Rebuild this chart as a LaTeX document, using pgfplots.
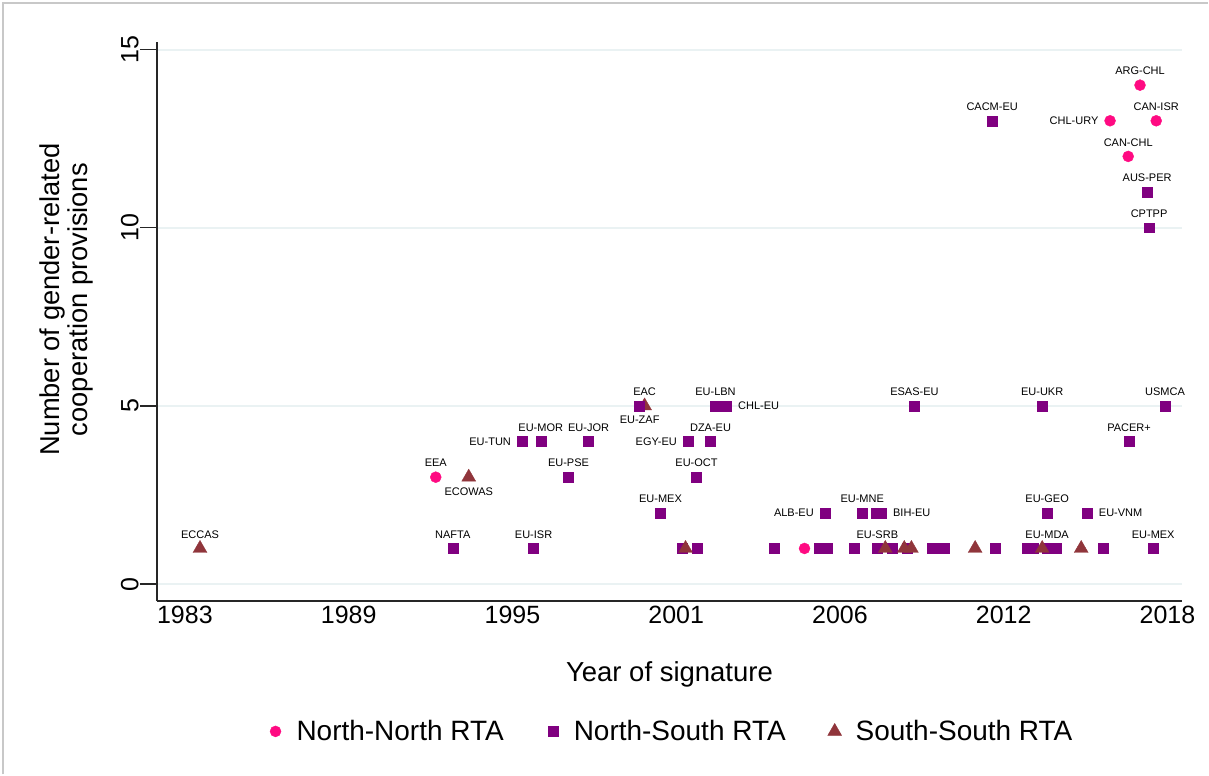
\documentclass[border=0pt]{standalone}
\usepackage{fontspec}
\setmainfont{Liberation Sans}
\usepackage{pgfplots}
\pgfplotsset{compat=1.18}

\definecolor{nnpink}{RGB}{255,10,130}
\definecolor{nspurple}{RGB}{128,0,128}
\definecolor{sstri}{RGB}{144,53,59}
\definecolor{gridc}{RGB}{234,242,243}
\definecolor{framec}{RGB}{200,200,200}

\pgfplotsset{
  lbl/.style={nodes near coords, point meta=explicit symbolic,
    every node near coord/.append style={anchor=#1, font=\fontsize{11}{13}\selectfont,
      inner xsep=11.5pt, inner ysep=10pt, text=black}},
  legmark/.style={legend image code/.code={\path[draw=none,fill=none] (0pt,0pt) (30pt,0pt); \draw[##1] plot coordinates {(11pt,0pt)};}},
  nn/.style={only marks, mark=*, mark size=5.5pt, color=nnpink, legmark},
  ns/.style={only marks, mark=square*, mark size=5pt, color=nspurple, legmark},
  ss/.style={only marks, mark=triangle*, mark size=8pt, color=sstri, legmark},
}

\begin{document}
\begin{tikzpicture}[x=1pt,y=1pt]
\fill[white] (-157,-173.3) rectangle (1052,601.7);
\draw[framec, line width=2pt] (-154,-173.3) -- (-154,598.7) -- (1052,598.7);
\begin{axis}[
  at={(0,0)}, anchor=south west,
  scale only axis, width=1026pt, height=560pt,
  xmin=1982.13, xmax=2019.44, ymin=-0.48, ymax=15.22,
  clip=false,
  axis x line*=bottom, axis y line*=left,
  axis line style={-, line width=1.6pt, black!85},
  xtick={1983.15,1989.11,1995.07,2001.03,2006.99,2012.95,2018.91},
  xticklabels={1983,1989,1995,2001,2006,2012,2018},
  ytick={0,5,10,15},
  xtick style={draw=none},
  tick align=outside,
  major tick length=17pt,
  ytick style={line width=1.5pt, black!85},
  ymajorgrids,
  major grid style={gridc, line width=2pt},
  /pgf/number format/assume math mode=true,
  xticklabel style={font=\fontsize{25}{30}\selectfont, inner sep=3pt, yshift=15pt},
  yticklabel style={font=\fontsize{25}{30}\selectfont, rotate=90, anchor=south, inner sep=1pt},
  xlabel={Year of signature},
  xlabel style={font=\fontsize{27.5}{33}\selectfont, at={(axis description cs:0.5,-0.131)}, anchor=center},
  ylabel={Number of gender-related\\cooperation provisions},
  ylabel style={font=\fontsize{27.3}{28}\selectfont, align=center, at={(axis description cs:-0.088,0.539)}, anchor=center},
  legend columns=3,
  legend style={at={(axis description cs:0.5,-0.2327)}, anchor=center, draw=none, fill=none,
    font=\fontsize{28}{33}\selectfont,
    /tikz/every even column/.append style={column sep=36pt}},
]
% North-North, label above
\addplot[nn, lbl=south] coordinates {
 (1992.28,3) [EEA] (2017.48,12) [CAN-CHL] (2017.91,14) [ARG-CHL] (2018.50,13) [CAN-ISR]};
\addlegendentry{North-North RTA}
% North-South, label above
\addplot[ns, lbl=south] coordinates {
 (1992.90,1) [NAFTA] (1995.84,1) [EU-ISR] (1996.10,4) [EU-MOR] (1997.11,3) [EU-PSE]
 (1997.84,4) [EU-JOR] (2000.46,2) [EU-MEX] (2001.77,3) [EU-OCT] (2002.28,4) [DZA-EU]
 (2002.46,5) [EU-LBN] (2007.80,2) [EU-MNE] (2008.35,1) [EU-SRB] (2009.70,5) [ESAS-EU]
 (2012.53,13) [CACM-EU] (2014.35,5) [EU-UKR] (2014.53,2) [EU-GEO] (2014.53,1) [EU-MDA]
 (2017.51,4) [PACER+] (2018.39,1) [EU-MEX] (2018.17,11) [AUS-PER] (2018.24,10) [CPTPP]
 (2018.82,5) [USMCA]};
\addlegendentry{North-South RTA}
% South-South, label above
\addplot[ss, lbl=south] coordinates {(1983.70,1) [ECCAS] (1999.88,5) [EAC]};
\addlegendentry{South-South RTA}

% other label sides
\addplot[nn, lbl=east, forget plot] coordinates {(2016.82,13) [CHL-URY]};
\addplot[ns, lbl=north, forget plot] coordinates {(1999.70,5) [EU-ZAF]};
\addplot[ns, lbl=east, forget plot] coordinates {
 (1995.44,4) [EU-TUN] (2001.48,4) [EGY-EU] (2006.46,2) [ALB-EU]};
\addplot[ns, lbl=west, forget plot] coordinates {
 (2002.86,5) [CHL-EU] (2008.50,2) [BIH-EU] (2015.99,2) [EU-VNM]};

% unlabelled agreements
\addplot[nn, forget plot] coordinates {(2005.70,1)};
\addplot[ns, forget plot] coordinates {
 (2001.26,1) (2001.80,1) (2004.60,1) (2006.24,1) (2006.53,1) (2007.51,1) (2008.31,2)
 (2008.90,1) (2009.44,1) (2010.35,1) (2010.60,1) (2010.79,1) (2012.64,1) (2013.80,1)
 (2014.02,1) (2014.86,1) (2016.57,1)};
\addplot[ss, lbl=north, forget plot] coordinates {(1993.48,3) [ECOWAS]};
\addplot[ss, forget plot] coordinates {
 (2001.37,1) (2008.64,1) (2009.33,1) (2009.59,1) (2011.91,1) (2014.35,1) (2015.77,1)};
\end{axis}
\end{tikzpicture}
\end{document}
